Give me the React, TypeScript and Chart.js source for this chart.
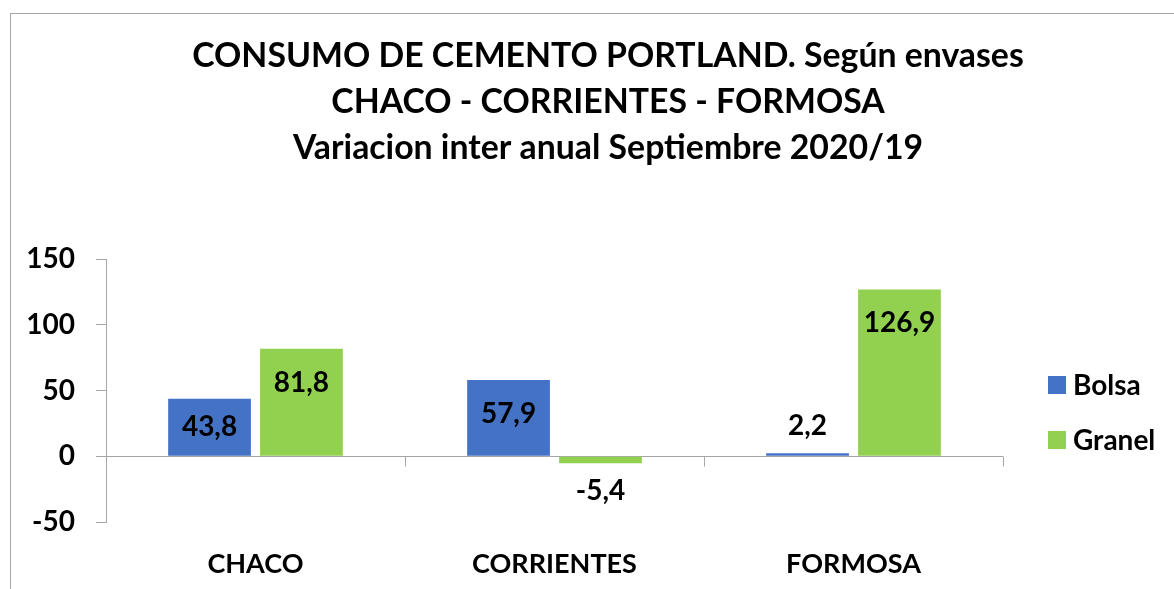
import React, { useEffect, useRef } from "react";
import { Chart, registerables } from "chart.js";

Chart.register(...registerables);

const categories = ["CHACO", "CORRIENTES", "FORMOSA"];
const bolsaValues = [43.8, 57.9, 2.2];
const granelValues = [81.8, -5.4, 126.9];
const seriesNames = ["Bolsa", "Granel"];
const titleLines = [
  "CONSUMO DE CEMENTO PORTLAND. Según envases",
  "CHACO - CORRIENTES - FORMOSA",
  "Variacion inter anual Septiembre 2020/19",
];
const yMin = -50;
const yMax = 150;
const yStep = 50;

const FONT = "Lato, 'Open Sans', sans-serif";
const BLUE = "#4472C4";
const GREEN = "#92D050";
const AXIS = "#a6a6a6";

const fmt = (v: number) => v.toFixed(1).replace(".", ",");

const titlePlugin = {
  id: "centeredTitle",
  afterDraw(chart: any) {
    const ctx = chart.ctx;
    ctx.save();
    ctx.font = `bold 33.8px ${FONT}`;
    ctx.fillStyle = "#000";
    ctx.textAlign = "center";
    ctx.textBaseline = "middle";
    const cx = chart.width / 2;
    titleLines.forEach((t, i) => {
      ctx.fillText(t, cx, 42 + i * 46);
    });
    ctx.restore();
  },
};

const labelPlugin = {
  id: "barLabels",
  afterDatasetsDraw(chart: any) {
    const ctx = chart.ctx;
    ctx.save();
    ctx.font = `bold 28px ${FONT}`;
    ctx.fillStyle = "#000";
    ctx.textAlign = "center";
    ctx.textBaseline = "middle";
    chart.data.datasets.forEach((ds: any, di: number) => {
      const meta = chart.getDatasetMeta(di);
      meta.data.forEach((bar: any, i: number) => {
        const v = ds.data[i];
        let y;
        if (v >= 10) {
          y = Math.min(bar.y + 34, (bar.y + bar.base) / 2);
        } else if (v >= 0) {
          y = bar.y - 27;
        } else {
          y = bar.y + 28;
        }
        ctx.fillText(fmt(v), bar.x, y);
      });
    });
    ctx.restore();
  },
};

const axisDecor = {
  id: "axisDecor",
  beforeDatasetsDraw(chart: any) {
    const ctx = chart.ctx;
    const xs = chart.scales.x;
    const ys = chart.scales.y;
    const y0 = Math.round(ys.getPixelForValue(0)) + 0.5;
    ctx.save();
    ctx.strokeStyle = AXIS;
    ctx.lineWidth = 1;
    ctx.beginPath();
    ctx.moveTo(chart.chartArea.left - 10, y0);
    ctx.lineTo(chart.chartArea.right, y0);
    const n = categories.length;
    const step = xs.getPixelForValue(1) - xs.getPixelForValue(0);
    for (let i = 0; i <= n; i++) {
      const px = i < n ? xs.getPixelForValue(i) - step / 2 : xs.getPixelForValue(n - 1) + step / 2;
      const x = Math.round(px) + 0.5;
      ctx.moveTo(x, y0);
      ctx.lineTo(x, y0 + 10);
    }
    ctx.stroke();
    ctx.restore();
  },
};

const legendPlugin = {
  id: "customLegend",
  afterDraw(chart: any) {
    const ctx = chart.ctx;
    const { right, top } = chart.chartArea;
    ctx.save();
    ctx.font = `bold 28px ${FONT}`;
    ctx.textBaseline = "middle";
    ctx.textAlign = "left";
    chart.data.datasets.forEach((ds: any, i: number) => {
      const cy = top + 126 + i * 55;
      ctx.fillStyle = ds.backgroundColor;
      ctx.fillRect(right + 45, cy - 9, 18, 18);
      ctx.fillStyle = "#000";
      ctx.fillText(ds.label, right + 70, cy + 1);
    });
    ctx.restore();
  },
};

export default function App() {
  const ref = useRef<HTMLCanvasElement>(null);
  useEffect(() => {
    if (!ref.current) return;
    const chart = new Chart(ref.current, {
      type: "bar",
      data: {
        labels: categories,
        datasets: [
          { label: seriesNames[0], data: bolsaValues, backgroundColor: BLUE, barPercentage: 0.9, categoryPercentage: 0.615 },
          { label: seriesNames[1], data: granelValues, backgroundColor: GREEN, barPercentage: 0.9, categoryPercentage: 0.615 },
        ],
      },
      options: {
        animation: false,
        responsive: false,
        layout: { padding: { left: 0, right: 202, top: 245, bottom: 0 } },
        plugins: {
          legend: { display: false },
          tooltip: { enabled: false },
          title: { display: false },
        },
        scales: {
          x: {
            grid: { display: false, drawTicks: false },
            border: { display: false },
            ticks: { color: "#000", font: { family: FONT, size: 27, weight: "bold" }, padding: 26 },
            afterFit(scale: any) {
              scale.height = 92;
            },
          },
          y: {
            min: yMin,
            max: yMax,
            grid: { drawOnChartArea: false, drawTicks: true, tickLength: 10, tickColor: AXIS, color: AXIS },
            border: { display: true, color: AXIS },
            ticks: {
              stepSize: yStep,
              color: "#000",
              padding: 21,
              font: { family: FONT, size: 28, weight: "bold" },
            },
            afterFit(scale: any) {
              scale.width = 95;
            },
          },
        },
      },
      plugins: [axisDecor, labelPlugin, legendPlugin, titlePlugin],
    });
    return () => chart.destroy();
  }, []);

  return (
    <div style={{ position: "fixed", left: 0, top: 0, width: 1174, height: 589, overflow: "hidden", background: "#fff" }}>
      <div
        style={{
          position: "absolute",
          left: 10,
          top: 13,
          width: 1194,
          height: 600,
          border: "1px solid #a6a6a6",
          background: "#fff",
        }}
      >
        <canvas ref={ref} width={1194} height={600} style={{ display: "block" }} />
      </div>
    </div>
  );
}
